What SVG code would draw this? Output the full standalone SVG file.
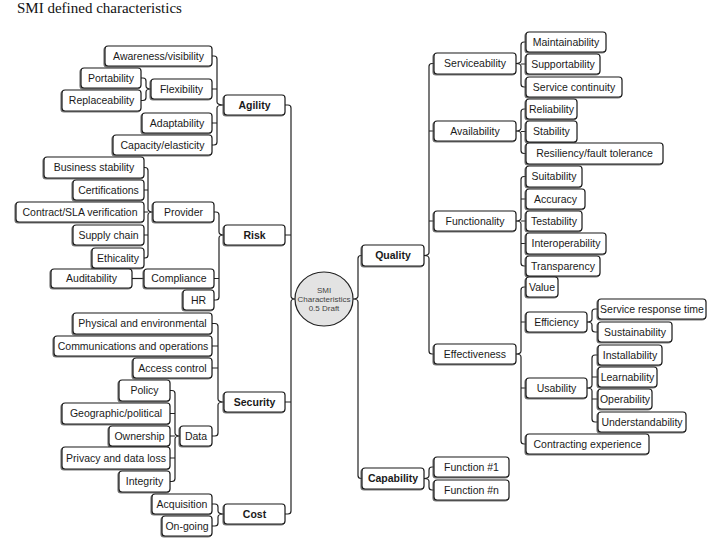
<svg xmlns="http://www.w3.org/2000/svg" width="720" height="540" viewBox="0 0 720 540">
<defs>
<filter id="sh" x="-10%" y="-20%" width="120%" height="150%"><feDropShadow dx="-1" dy="1" stdDeviation="0.3" flood-color="#555" flood-opacity="0.8"/></filter>
<style>
.n rect{fill:#fff;stroke:#1a1a1a;stroke-width:1.2;filter:url(#sh)}
.n text{font-family:"Liberation Sans",Arial,sans-serif;font-size:10.5px;text-anchor:middle;fill:#1a1a1a}
.n.k text{font-weight:bold}
.c path{fill:none;stroke:#222;stroke-width:1.2}
.t{font-family:"Liberation Serif","Times New Roman",serif;font-size:15px;fill:#111}
.ct{font-family:"Liberation Sans",Arial,sans-serif;font-size:8px;text-anchor:middle;fill:#444}
</style>
</defs>
<rect width="720" height="540" fill="#fff"/>
<text class="t" x="17" y="13">SMI defined characteristics</text>

<g id="connectors" class="c">
<path d="M212 56H214Q217 56 217 59V102Q217 105 224 105M212 145H214Q217 145 217 142V108Q217 105 224 105M212 89H217M212 123H217"/>
<path d="M141 78H143Q146 78 146 81V86Q146 89 151 89M141 100.5H143Q146 100.5 146 97.5V92Q146 89 151 89"/>
<path d="M144 167.5H145Q148 167.5 148 170.5V209Q148 212 153 212M144 258H145Q148 258 148 255V215Q148 212 153 212M144 190H148M144 212H148M144 235H148"/>
<path d="M214 212H216Q219 212 219 215V232Q219 235 224 235M214 300H216Q219 300 219 297V238Q219 235 224 235M214 278.5H219"/>
<path d="M132 278.5H144"/>
<path d="M212 323.5H215Q218 323.5 218 326.5V399Q218 402 224 402M212 436H215Q218 436 218 433V405Q218 402 224 402M212 346H218M212 368H218"/>
<path d="M170 390.5H172Q175 390.5 175 393.5V433Q175 436 180 436M170 481.5H172Q175 481.5 175 478.5V439Q175 436 180 436M170 413.5H175M170 436H175M170 458H175"/>
<path d="M212 504H215Q218 504 218 507V511Q218 514 224 514M212 526H215Q218 526 218 523V517Q218 514 224 514"/>
<path d="M285 105H288Q291 105 291 108V296Q291 299 295 299M285 514H288Q291 514 291 511V302Q291 299 295 299M285 235H291M285 402H291"/>
<path d="M362 255.5H361Q358 255.5 358 258.5V296Q358 299 353 299M362 478.5H361Q358 478.5 358 475.5V302Q358 299 353 299"/>
<path d="M434 63.5H432Q429 63.5 429 66.5V252.5Q429 255.5 424 255.5M434 354H432Q429 354 429 351V258.5Q429 255.5 424 255.5M434 131H429M434 221H429"/>
<path d="M526 42H524Q521 42 521 45V60.5Q521 63.5 516 63.5M526 87H524Q521 87 521 84V66.5Q521 63.5 516 63.5M526 64H521"/>
<path d="M526 109H524Q521 109 521 112V128Q521 131 516 131M526 153.5H524Q521 153.5 521 150.5V134Q521 131 516 131M526 131.5H521"/>
<path d="M526 176.5H524Q521 176.5 521 179.5V218Q521 221 516 221M526 266H524Q521 266 521 263V224Q521 221 516 221M526 199H521M526 221H521M526 243.5H521"/>
<path d="M526 287H524Q521 287 521 290V351Q521 354 516 354M526 444H524Q521 444 521 441V357Q521 354 516 354M526 322H521M526 388H521"/>
<path d="M598 309H595Q592 309 592 312V319Q592 322 587 322M598 332H595Q592 332 592 329V325Q592 322 587 322"/>
<path d="M598 355H595Q592 355 592 358V385Q592 388 587 388M598 422H595Q592 422 592 419V391Q592 388 587 388M598 377H592M598 399H592"/>
<path d="M434 467H432Q429 467 429 470V475.5Q429 478.5 424 478.5M434 490H432Q429 490 429 487V481.5Q429 478.5 424 478.5"/>
</g>

<g id="center">
<ellipse cx="324" cy="299" rx="29" ry="27" fill="#e3e3e3" stroke="#222" stroke-width="1.2"/>
<text class="ct" x="324" y="293">SMI</text>
<text class="ct" x="324" y="302">Characteristics</text>
<text class="ct" x="324" y="311">0.5 Draft</text>
</g>

<g id="awareness" class="n"><rect x="105" y="46" width="107" height="20" rx="3"/><text x="158.5" y="59.7">Awareness/visibility</text></g>
<g id="portability" class="n"><rect x="81" y="68" width="60" height="20" rx="3"/><text x="111" y="81.7">Portability</text></g>
<g id="replaceability" class="n"><rect x="62" y="90" width="79" height="21" rx="3"/><text x="101.5" y="104.2">Replaceability</text></g>
<g id="flexibility" class="n"><rect x="151" y="79" width="61" height="20" rx="3"/><text x="181.5" y="92.7">Flexibility</text></g>
<g id="adaptability" class="n"><rect x="142" y="113" width="70" height="20" rx="3"/><text x="177" y="126.7">Adaptability</text></g>
<g id="capacity" class="n"><rect x="113" y="135" width="99" height="20" rx="3"/><text x="162.5" y="148.7">Capacity/elasticity</text></g>
<g id="agility" class="n k"><rect x="224" y="95" width="61" height="20" rx="3"/><text x="254.5" y="108.7">Agility</text></g>

<g id="business" class="n"><rect x="44" y="157" width="100" height="21" rx="3"/><text x="94" y="171.2">Business stability</text></g>
<g id="certifications" class="n"><rect x="73" y="180" width="71" height="20" rx="3"/><text x="108.5" y="193.7">Certifications</text></g>
<g id="contract" class="n"><rect x="16" y="202" width="128" height="20" rx="3"/><text x="80" y="215.7">Contract/SLA verification</text></g>
<g id="provider" class="n"><rect x="153" y="202" width="61" height="20" rx="3"/><text x="183.5" y="215.7">Provider</text></g>
<g id="supply" class="n"><rect x="73" y="225" width="71" height="20" rx="3"/><text x="108.5" y="238.7">Supply chain</text></g>
<g id="ethicality" class="n"><rect x="92" y="248" width="52" height="20" rx="3"/><text x="118" y="261.7">Ethicality</text></g>
<g id="auditability" class="n"><rect x="51" y="269" width="81" height="19" rx="3"/><text x="91.5" y="282.2">Auditability</text></g>
<g id="compliance" class="n"><rect x="144" y="269" width="70" height="19" rx="3"/><text x="179" y="282.2">Compliance</text></g>
<g id="hr" class="n"><rect x="183" y="290" width="31" height="20" rx="3"/><text x="198.5" y="303.7">HR</text></g>
<g id="risk" class="n k"><rect x="224" y="225" width="61" height="20" rx="3"/><text x="254.5" y="238.7">Risk</text></g>

<g id="physical" class="n"><rect x="73" y="313" width="139" height="21" rx="3"/><text x="142.5" y="327.2">Physical and environmental</text></g>
<g id="communications" class="n"><rect x="54" y="336" width="158" height="20" rx="3"/><text x="133" y="349.7">Communications and operations</text></g>
<g id="access" class="n"><rect x="133" y="358" width="79" height="20" rx="3"/><text x="172.5" y="371.7">Access control</text></g>
<g id="policy" class="n"><rect x="119" y="380" width="51" height="21" rx="3"/><text x="144.5" y="394.2">Policy</text></g>
<g id="geographic" class="n"><rect x="62" y="403" width="108" height="21" rx="3"/><text x="116" y="417.2">Geographic/political</text></g>
<g id="ownership" class="n"><rect x="109" y="426" width="61" height="20" rx="3"/><text x="139.5" y="439.7">Ownership</text></g>
<g id="data" class="n"><rect x="180" y="426" width="32" height="20" rx="3"/><text x="196" y="439.7">Data</text></g>
<g id="privacy" class="n"><rect x="62" y="447" width="108" height="22" rx="3"/><text x="116" y="461.7">Privacy and data loss</text></g>
<g id="integrity" class="n"><rect x="119" y="471" width="51" height="21" rx="3"/><text x="144.5" y="485.2">Integrity</text></g>
<g id="security" class="n k"><rect x="224" y="392" width="61" height="20" rx="3"/><text x="254.5" y="405.7">Security</text></g>

<g id="acquisition" class="n"><rect x="152" y="494" width="60" height="20" rx="3"/><text x="182" y="507.7">Acquisition</text></g>
<g id="ongoing" class="n"><rect x="162" y="516" width="50" height="20" rx="3"/><text x="187" y="529.7">On-going</text></g>
<g id="cost" class="n k"><rect x="224" y="504" width="61" height="20" rx="3"/><text x="254.5" y="517.7">Cost</text></g>

<g id="quality" class="n k"><rect x="362" y="245" width="62" height="21" rx="3"/><text x="393" y="259.2">Quality</text></g>
<g id="capability" class="n k"><rect x="362" y="468" width="62" height="21" rx="3"/><text x="393" y="482.2">Capability</text></g>
<g id="serviceability" class="n"><rect x="434" y="53" width="82" height="21" rx="3"/><text x="475" y="67.2">Serviceability</text></g>
<g id="availability" class="n"><rect x="434" y="121" width="82" height="20" rx="3"/><text x="475" y="134.7">Availability</text></g>
<g id="functionality" class="n"><rect x="434" y="211" width="82" height="20" rx="3"/><text x="475" y="224.7">Functionality</text></g>
<g id="effectiveness" class="n"><rect x="434" y="344" width="82" height="20" rx="3"/><text x="475" y="357.7">Effectiveness</text></g>
<g id="function1" class="n"><rect x="434" y="457" width="75" height="20" rx="3"/><text x="471.5" y="470.7">Function #1</text></g>
<g id="functionn" class="n"><rect x="434" y="480" width="75" height="20" rx="3"/><text x="471.5" y="493.7">Function #n</text></g>

<g id="maintainability" class="n"><rect x="526" y="32" width="80" height="20" rx="3"/><text x="566" y="45.7">Maintainability</text></g>
<g id="supportability" class="n"><rect x="526" y="54" width="74" height="20" rx="3"/><text x="563" y="67.7">Supportability</text></g>
<g id="servicecontinuity" class="n"><rect x="526" y="77" width="96" height="20" rx="3"/><text x="574" y="90.7">Service continuity</text></g>
<g id="reliability" class="n"><rect x="526" y="99" width="51" height="20" rx="3"/><text x="551.5" y="112.7">Reliability</text></g>
<g id="stability" class="n"><rect x="526" y="121" width="51" height="21" rx="3"/><text x="551.5" y="135.2">Stability</text></g>
<g id="resiliency" class="n"><rect x="526" y="143" width="137" height="21" rx="3"/><text x="594.5" y="157.2">Resiliency/fault tolerance</text></g>
<g id="suitability" class="n"><rect x="526" y="166" width="56" height="21" rx="3"/><text x="554" y="180.2">Suitability</text></g>
<g id="accuracy" class="n"><rect x="526" y="189" width="59" height="20" rx="3"/><text x="555.5" y="202.7">Accuracy</text></g>
<g id="testability" class="n"><rect x="526" y="211" width="56" height="20" rx="3"/><text x="554" y="224.7">Testability</text></g>
<g id="interoperability" class="n"><rect x="526" y="233" width="80" height="21" rx="3"/><text x="566" y="247.2">Interoperability</text></g>
<g id="transparency" class="n"><rect x="526" y="256" width="74" height="20" rx="3"/><text x="563" y="269.7">Transparency</text></g>
<g id="value" class="n"><rect x="526" y="277" width="32" height="20" rx="3"/><text x="542" y="290.7">Value</text></g>
<g id="efficiency" class="n"><rect x="526" y="312" width="61" height="20" rx="3"/><text x="556.5" y="325.7">Efficiency</text></g>
<g id="responsetime" class="n"><rect x="598" y="299" width="108" height="20" rx="3"/><text x="652" y="312.7">Service response time</text></g>
<g id="sustainability" class="n"><rect x="598" y="322" width="74" height="20" rx="3"/><text x="635" y="335.7">Sustainability</text></g>
<g id="usability" class="n"><rect x="526" y="378" width="61" height="20" rx="3"/><text x="556.5" y="391.7">Usability</text></g>
<g id="installability" class="n"><rect x="598" y="345" width="64" height="20" rx="3"/><text x="630" y="358.7">Installability</text></g>
<g id="learnability" class="n"><rect x="598" y="367" width="59" height="20" rx="3"/><text x="627.5" y="380.7">Learnability</text></g>
<g id="operability" class="n"><rect x="598" y="389" width="54" height="20" rx="3"/><text x="625" y="402.7">Operability</text></g>
<g id="understandability" class="n"><rect x="598" y="412" width="88" height="20" rx="3"/><text x="642" y="425.7">Understandability</text></g>
<g id="contracting" class="n"><rect x="526" y="434" width="123" height="20" rx="3"/><text x="587.5" y="447.7">Contracting experience</text></g>
</svg>
